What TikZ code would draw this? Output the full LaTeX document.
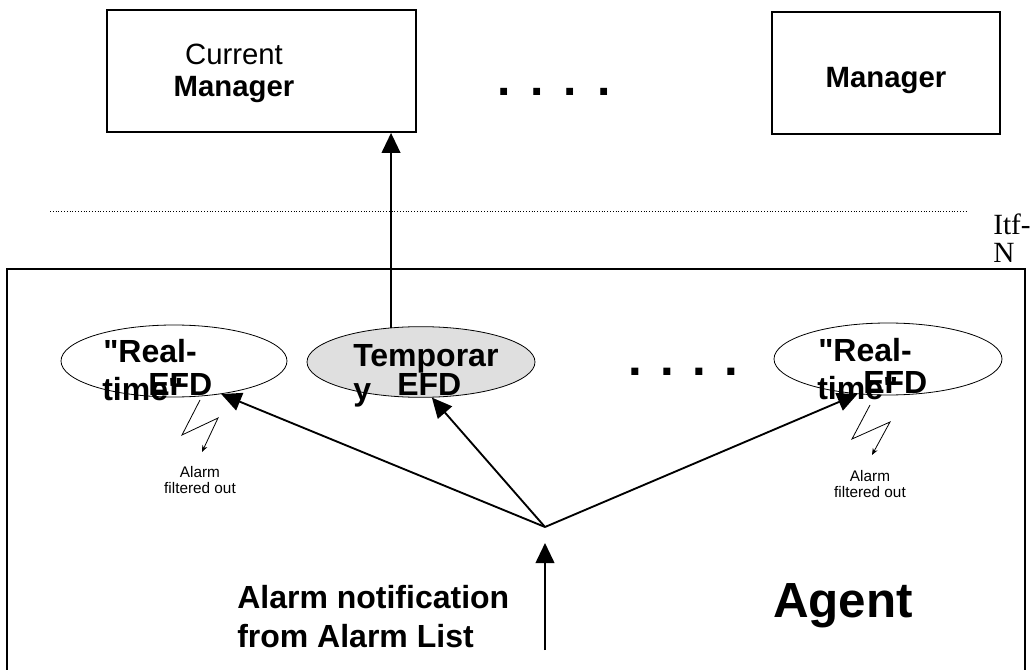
\documentclass[tikz,border=0pt]{standalone}
\usepackage{fontspec}
\setmainfont{Liberation Sans}[Ligatures=TeXOff]
\newfontfamily\itffont{Liberation Serif}
\usetikzlibrary{shapes.geometric,arrows.meta}
\begin{document}
\begin{tikzpicture}[x=0.75pt,y=-0.75pt,
    mgr/.style={draw,line width=1.4pt,inner sep=0pt,minimum height=91.5pt},
    efd/.style={draw,ellipse,line width=0.6pt,inner sep=0pt},
    txt/.style={anchor=base west,inner sep=0pt},
    big/.style={font=\fontsize{22}{24}\selectfont},
    efdtxt/.style={txt,font=\fontsize{24}{24}\selectfont\bfseries},
    more/.style={txt,font=\fontsize{36}{36}\selectfont\bfseries},
    flow/.style={line width=1.4pt,-{Triangle[length=15pt,width=14pt]}},
    bolt/.style={line width=0.6pt,-{Stealth[length=5pt,width=4pt]}},
    note/.style={anchor=base,inner sep=0pt,font=\fontsize{11.5}{12}\selectfont}]
    \useasboundingbox (0,0) rectangle (1032,670);

    % Managers
    \node[mgr,minimum width=231.75pt] (curmgr) at (261.5,71) {};
    \node[txt,big,anchor=base] (curtxt) at (234,65) {Current};
    \node[txt,big,anchor=base,font=\fontsize{22}{24}\selectfont\bfseries] (curtxtb) at (234,97) {Manager};
    \node[more] (mgrdots) at (497,96) {.\hspace{15pt}.\hspace{15pt}.\hspace{15pt}.};
    \node[mgr,minimum width=171pt] (othmgr) at (886,73) {};
    \node[txt,anchor=base,font=\fontsize{22}{24}\selectfont\bfseries] (othtxt) at (886,88) {Manager};

    % Itf-N
    \draw[line width=0.6pt,dash pattern=on 0.6pt off 1.5pt] (50,211) coordinate (itfl) -- (967,211) coordinate (itfr);
    \node[txt,font=\itffont\fontsize{22}{24}\selectfont] (itf) at (993,235) {Itf-};
    \node[txt,font=\itffont\fontsize{22}{24}\selectfont] (itfn) at (993,263) {N};

    % Agent
    \draw[line width=1.4pt] (7,670) |- (1025,269) -- (1025,670);
    \node[txt,font=\fontsize{37}{37}\selectfont\bfseries,anchor=base] (agent) at (843,617) {Agent};

    % EFDs
    \node[efd,minimum width=169.5pt,minimum height=54pt] (rtl) at (174,361) {};
    \node[efd,fill=gray!25,minimum width=171pt,minimum height=53pt] (tmpefd) at (421,362) {};
    \node[efd,minimum width=171pt,minimum height=54pt] (rtr) at (888,359) {};
    \node[efdtxt] (rtla) at (103,363) {"Real-};
    \node[efdtxt] (rtlb) at (102,400) {time"};
    \node[efdtxt] (rtlc) at (148,395) {EFD};
    \node[efdtxt] (tmpa) at (353,367) {Temporar};
    \node[efdtxt] (tmpb) at (353,400) {y};
    \node[efdtxt] (tmpc) at (397,395) {EFD};
    \node[efdtxt] (rtra) at (818,362) {"Real-};
    \node[efdtxt] (rtrb) at (817,399) {time"};
    \node[efdtxt] (rtrc) at (863,393) {EFD};
    \node[more,font=\fontsize{37}{37}\selectfont\bfseries] (efddots) at (628,375) {. . . .};

    % Forwarding
    \draw[flow] (tmpefd.131) -- (tmpefd.131 |- curmgr.south);
    \coordinate (split) at (545,527);
    \coordinate (listin) at (545,650);
    \draw[flow,shorten >=12pt] (listin) -- (split);
    \draw[flow] (split) -- (rtl.-35);
    \draw[flow] (split) -- (tmpefd.-73);
    \draw[flow] (split) -- (rtr.229);
    \node[efdtxt] (lista) at (237,608) {Alarm notification};
    \node[efdtxt] (listb) at (237,647) {from Alarm List};

    % Filtered
    \coordinate (boltl) at (200,400);
    \draw[bolt] (boltl) -- ++(-18,35) -- ++(36,-17) -- ++(-16,34);
    \node[note] (filtla) at (200,477) {Alarm};
    \node[note] (filtlb) at (200,493) {filtered out};
    \coordinate (boltr) at (870,405);
    \draw[bolt] (boltr) -- ++(-18,34) -- ++(38,-17) -- ++(-18,33);
    \node[note] (filtra) at (870,481) {Alarm};
    \node[note] (filtrb) at (870,497) {filtered out};
\end{tikzpicture}
\end{document}
